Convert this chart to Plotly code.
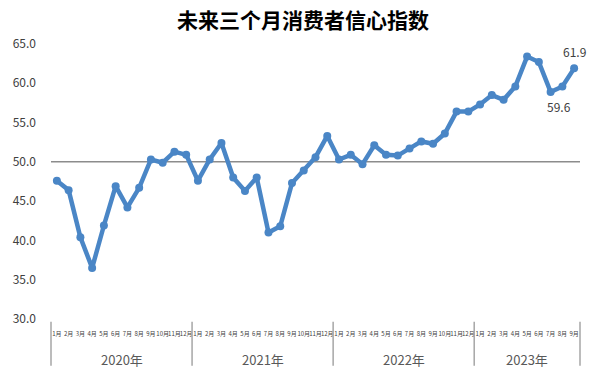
import plotly.graph_objects as go

title_text = "未来三个月消费者信心指数"
years = ["2020年", "2021年", "2022年", "2023年"]
months_per_year = [12, 12, 12, 9]
month_labels = (
    ["1月", "2月", "3月", "4月", "5月", "6月", "7月", "8月", "9月", "10月", "11月", "12月"] * 3
    + ["1月", "2月", "3月", "4月", "5月", "6月", "7月", "8月", "9月"]
)
values = [
    47.6, 46.4, 40.4, 36.5, 41.9, 46.9, 44.2, 46.7, 50.3, 49.9, 51.3, 50.9,
    47.6, 50.3, 52.4, 48.0, 46.3, 48.0, 41.0, 41.8, 47.3, 48.9, 50.6, 53.3,
    50.3, 50.9, 49.7, 52.1, 50.9, 50.8, 51.7, 52.6, 52.3, 53.6, 56.4, 56.4,
    57.3, 58.5, 57.9, 59.6, 63.4, 62.7, 58.9, 59.6, 61.9,
]
y_ticks = [30, 35, 40, 45, 50, 55, 60, 65]
y_tick_labels = ["30.0", "35.0", "40.0", "45.0", "50.0", "55.0", "60.0", "65.0"]
reference_level = 50
labelled_points = [(43, "59.6", "below"), (44, "61.9", "above")]

x = list(range(len(values)))
n = len(values)
line_color = "#4a86c6"
text_color = "#404040"

fig = go.Figure(
    go.Scatter(
        x=x, y=values, mode="lines+markers",
        line=dict(color=line_color, width=4.5),
        marker=dict(size=8, color=line_color),
        hoverinfo="skip", showlegend=False, cliponaxis=False,
    )
)

shapes = [
    dict(type="line", xref="paper", yref="y", x0=0, x1=1,
         y0=reference_level, y1=reference_level,
         line=dict(color="#8c8c8c", width=1.5), layer="below"),
]
annotations = []
boundaries = [0]
for c in months_per_year:
    boundaries.append(boundaries[-1] + c)
for b in boundaries:
    shapes.append(dict(type="line", xref="paper", yref="paper",
                       x0=b / n, x1=b / n, y0=-0.01, y1=-0.17,
                       line=dict(color="#a6a6a6", width=1.5)))
for i, yr in enumerate(years):
    annotations.append(dict(
        x=(boundaries[i] + boundaries[i + 1]) / 2 - 0.5, xref="x",
        y=-0.148, yref="paper", text=yr, showarrow=False,
        font=dict(size=13, color="#595959"), yanchor="middle"))
for idx, txt, pos in labelled_points:
    annotations.append(dict(
        x=x[idx], y=values[idx], xref="x", yref="y", text=txt, showarrow=False,
        yshift=17 if pos == "above" else -20, xshift=0 if pos == "above" else -3,
        font=dict(size=12, color=text_color)))

fig.update_layout(
    width=600, height=375,
    margin=dict(l=51, r=20, t=44, b=56),
    paper_bgcolor="white", plot_bgcolor="white",
    font=dict(family="Noto Sans CJK SC, Liberation Sans, sans-serif", color=text_color),
    title=dict(text="<b>" + title_text + "</b>", x=0.505, xref="container",
               xanchor="center", y=1 - 21 / 375, yanchor="middle",
               font=dict(size=21, color="black")),
    xaxis=dict(range=[-0.5, n - 0.5], tickmode="array", tickvals=x,
               ticktext=month_labels, tickangle=0,
               tickfont=dict(size=6, color=text_color),
               showgrid=False, zeroline=False, showline=False, ticks="",
               ticklabelstandoff=10, fixedrange=True, automargin=False),
    yaxis=dict(range=[30, 65], tickmode="array", tickvals=y_ticks,
               ticktext=y_tick_labels, tickfont=dict(size=12, color=text_color),
               showgrid=False, zeroline=False, showline=False, ticks="",
               ticklabelstandoff=14, fixedrange=True, automargin=False),
    shapes=shapes, annotations=annotations,
)

fig.write_html("out.html", post_script="document.body.style.margin='0';",
               config={"displayModeBar": False})
